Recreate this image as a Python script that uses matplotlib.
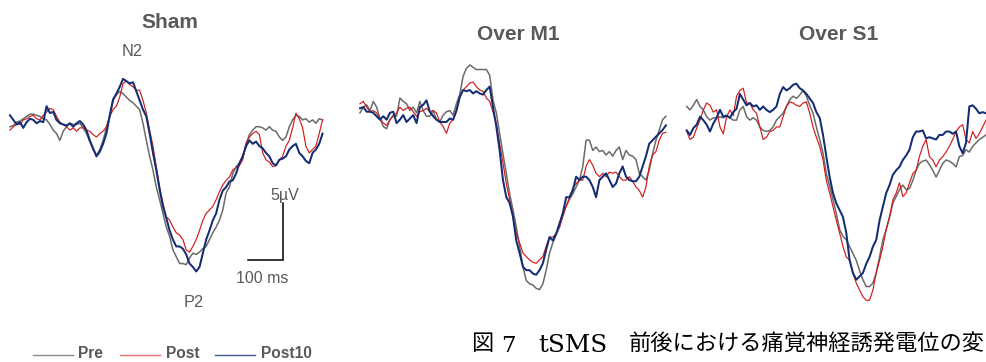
import matplotlib
matplotlib.use("Agg")
import numpy as np
import matplotlib.pyplot as plt
from matplotlib.lines import Line2D

# Averaged pain-related evoked potentials (µV, negative plotted upward)
DT_MS = 9.5  # sampling interval of the averaged traces

conditions = ["Pre", "Post", "Post10"]
panel_titles = ["Sham", "Over M1", "Over S1"]

sham_pre = [0.3, 0.2, -0.1, -0.2, -0.4, -0.6, -0.8, -0.8, -0.7, -0.6,
            -0.4, -0.3, 0.1, 0.6, 0.9, 1.5, 0.7, 0.3, 0.0, 0.1,
            0.1, 0.0, 0.4, 0.9, 1.6, 2.3, 2.8, 2.3, 1.5, 0.4,
            -0.6, -2.0, -2.5, -2.8, -2.6, -2.3, -2.0, -1.8, -1.5, -1.2,
            0.0, 1.5, 2.9, 4.1, 5.6, 6.7, 7.9, 9.1, 9.9, 11.1,
            11.7, 12.3, 12.3, 12.4, 11.8, 11.4, 11.5, 11.3, 11.0, 10.8,
            10.2, 9.6, 9.1, 8.5, 7.6, 6.1, 5.6, 4.4, 3.8, 3.5,
            2.9, 1.8, 1.0, 0.6, 0.3, 0.3, 0.4, 0.6, 0.3, 0.6,
            0.7, 1.2, 1.5, 1.2, 0.3, -0.3, -0.7, -0.6, -0.3, -0.4,
            -0.1, -0.3, 0.0, -0.4, -0.3]
sham_post = [0.6, 0.3, 0.1, 0.1, -0.3, -0.4, -0.6, -0.7, -0.4, -0.3,
             -0.7, -1.0, -1.3, -1.2, -0.6, -0.1, 0.1, 0.3, 0.6, 0.4,
             0.7, 0.4, 0.4, 0.6, 0.7, 1.0, 1.2, 0.9, 0.7, 0.3,
             -0.6, -1.2, -1.5, -2.3, -3.5, -3.7, -3.4, -3.2, -2.9, -2.9,
             -2.0, -0.9, 0.6, 2.0, 3.8, 5.6, 7.0, 8.2, 8.5, 9.1,
             9.6, 9.8, 10.2, 11.1, 11.3, 10.8, 10.2, 9.4, 8.5, 7.9,
             7.6, 7.3, 6.7, 6.0, 5.4, 5.0, 4.7, 4.1, 3.9, 3.7,
             3.2, 1.8, 1.2, 0.9, 0.7, 1.0, 2.6, 3.2, 3.4, 3.8,
             3.7, 3.2, 2.9, 2.0, 1.5, 0.4, -0.9, -0.4, 0.4, 2.0,
             2.6, 2.3, 2.0, 0.9, -0.3]
sham_post10 = [-0.7, -0.3, 0.1, -0.1, 0.4, -0.1, -0.4, -0.3, 0.0, -0.2,
               -0.1, -1.5, -0.9, -1.0, -0.3, 0.0, 0.1, 0.2, 0.0, 0.3,
               0.0, -0.2, 0.1, 0.6, 1.5, 2.2, 2.9, 2.5, 1.8, 0.9,
               -0.7, -2.1, -2.6, -3.2, -3.9, -3.7, -3.5, -3.6, -2.8, -2.0,
               -1.2, -0.6, 0.9, 2.6, 4.1, 5.8, 7.3, 8.3, 9.4, 10.2,
               10.8, 10.8, 11.0, 11.5, 12.3, 12.6, 13.0, 12.6, 11.4, 10.2,
               9.4, 8.5, 7.9, 6.7, 5.9, 5.6, 5.1, 5.0, 4.4, 3.5,
               2.9, 2.0, 1.5, 1.8, 1.6, 2.0, 2.2, 2.6, 2.9, 3.5,
               3.7, 3.2, 3.1, 2.9, 2.3, 2.0, 1.8, 2.6, 2.9, 3.3,
               3.5, 2.6, 2.3, 1.8, 0.9]

m1_pre = [0.1, -0.4, -0.6, -0.1, -0.9, -0.4, 0.6, 1.3, 1.5, 0.7,
          0.3, 0.4, -1.2, -0.9, -0.7, -0.1, -0.4, 0.1, -0.9, -0.1,
          0.4, 0.4, -0.1, 0.7, 0.9, 0.3, 0.0, -0.1, 0.3, -0.7,
          -1.5, -3.1, -3.8, -4.1, -3.9, -3.7, -3.7, -3.7, -3.7, -3.2,
          -1.0, 0.1, 1.9, 3.7, 5.4, 7.2, 8.6, 10.1, 11.8, 13.6,
          14.8, 15.1, 15.2, 15.5, 15.6, 15.1, 13.9, 12.4, 11.5, 10.8,
          10.1, 8.9, 8.3, 7.7, 7.2, 6.6, 6.0, 4.8, 2.5, 2.5,
          3.4, 3.1, 3.5, 3.4, 3.8, 3.5, 3.9, 3.4, 3.1, 4.2,
          3.4, 3.8, 3.9, 4.2, 5.4, 5.7, 6.0, 5.1, 3.7, 2.5,
          1.6, 0.7, 0.4]
m1_post = [-0.7, -0.9, -0.4, 0.0, -0.1, 0.1, 0.6, 1.0, 1.2, 0.7,
           0.4, 0.1, -0.4, -0.1, -0.3, -0.4, 0.0, 0.4, 0.0, -0.1,
           -0.3, 0.0, -0.1, 0.1, 0.9, 1.3, 1.9, 1.0, 0.7, 0.0,
           -1.2, -1.9, -2.2, -2.5, -2.6, -2.2, -1.9, -1.8, -1.2, -0.9,
           0.0, 1.0, 2.8, 4.5, 6.3, 7.7, 9.2, 10.7, 11.5, 12.4,
           12.7, 13.0, 13.2, 13.3, 13.0, 12.7, 11.8, 11.0, 11.0, 10.7,
           10.1, 9.2, 8.3, 7.5, 6.7, 6.3, 6.0, 6.0, 4.8, 4.2,
           4.7, 5.4, 5.7, 5.4, 5.7, 5.3, 5.4, 5.3, 5.7, 6.0,
           6.0, 5.7, 6.1, 6.6, 6.9, 7.5, 6.6, 4.8, 3.8, 3.5,
           2.5, 1.9, 1.8]
m1_post10 = [-0.3, -0.4, 0.0, 0.0, 0.1, 0.4, 0.7, 0.4, 0.7, 0.1,
             0.0, 1.0, 0.7, 0.3, 0.9, 0.6, 0.3, 1.0, -0.4, -0.6,
             -1.0, 0.0, 0.4, 0.7, 0.9, 0.9, 0.9, 0.6, 0.7, -0.1,
             -1.3, -1.9, -1.8, -1.9, -1.6, -1.8, -1.6, -1.5, -1.9, -2.2,
             -0.4, 1.3, 3.4, 6.0, 7.5, 8.0, 9.2, 11.3, 12.4, 13.6,
             13.9, 13.9, 14.2, 14.3, 13.9, 13.3, 12.1, 11.0, 11.3, 10.7,
             9.8, 8.9, 7.5, 7.5, 6.9, 5.7, 6.0, 5.7, 5.7, 6.0,
             6.6, 7.5, 6.0, 5.7, 5.4, 6.0, 6.6, 6.3, 5.4, 4.8,
             5.7, 6.0, 6.1, 6.1, 5.7, 4.8, 3.9, 2.8, 2.5, 2.2,
             1.9, 1.6, 1.2]

s1_pre = [-0.9, -0.6, -1.0, -1.5, -0.9, -0.6, 0.0, 0.3, 0.1, 0.1,
          0.0, 0.1, -0.1, 0.1, 0.3, 0.3, -0.6, -0.9, 0.0, 0.3,
          0.1, 0.3, 0.9, 1.2, 1.3, 1.2, 0.9, 0.3, 0.0, -0.3,
          -0.9, -1.5, -1.8, -1.6, -1.9, -2.3, -1.8, -1.0, -0.3, 0.9,
          2.0, 3.2, 5.0, 6.1, 7.3, 8.5, 9.9, 10.5, 10.8, 11.4,
          12.0, 12.6, 13.5, 14.3, 14.9, 14.9, 14.6, 13.7, 12.3, 10.8,
          9.9, 8.8, 7.6, 7.0, 6.4, 6.0, 6.4, 6.3, 5.6, 4.7,
          4.1, 3.9, 3.8, 4.2, 4.7, 5.3, 4.7, 4.1, 3.8, 3.9,
          4.1, 4.4, 3.5, 3.4, 2.9, 3.1, 2.6, 2.3, 2.0, 1.8,
          1.6]
s1_post = [1.3, 2.0, 1.8, 1.0, 0.3, -0.6, -1.2, -1.0, -0.4, -0.6,
           0.9, 1.5, 0.0, -0.6, -0.1, -1.8, -2.3, -2.5, -1.2, -1.2,
           -0.6, -0.3, 0.9, 2.0, 1.8, 1.3, 1.2, 0.9, 0.9, 0.0,
           -0.9, -1.3, -1.2, -1.0, -0.9, -1.2, -1.3, -0.3, 0.9, 1.8,
           2.6, 3.8, 5.6, 6.7, 7.9, 9.1, 10.2, 11.4, 12.3, 12.6,
           13.7, 14.6, 15.2, 15.8, 16.1, 16.1, 15.2, 13.7, 12.6, 11.4,
           9.9, 8.8, 7.3, 6.7, 5.8, 7.0, 6.7, 5.8, 5.0, 4.7,
           3.5, 2.6, 2.0, 3.5, 3.8, 4.4, 3.8, 3.5, 3.1, 2.6,
           2.0, 1.3, 0.9, 0.7, 2.0, 2.3, 1.3, 1.9, 1.5, 0.9,
           0.3]
s1_post10 = [1.2, 1.6, 1.0, 0.7, 0.0, 0.3, 0.7, 1.3, 0.6, 0.1,
             -0.6, 0.0, -0.1, 0.1, -0.4, -0.7, -2.0, -1.5, -1.0, -1.2,
             -0.9, -1.0, -0.6, -0.9, -0.6, -0.4, -0.6, -0.9, -2.0, -2.6,
             -2.3, -2.5, -2.8, -2.9, -2.5, -2.3, -2.0, -1.6, -1.2, -0.4,
             0.1, 1.6, 3.5, 5.3, 6.7, 7.6, 8.2, 8.8, 10.2, 12.6,
             13.7, 14.3, 14.0, 13.7, 12.9, 12.3, 11.4, 10.8, 9.1, 7.9,
             6.7, 6.0, 5.1, 4.7, 4.4, 3.8, 3.4, 2.9, 1.8, 1.3,
             1.3, 1.2, 1.9, 1.8, 1.9, 2.0, 1.6, 1.6, 1.3, 1.3,
             1.5, 1.3, 2.6, 3.2, 2.3, -0.9, -1.0, -0.7, -0.3, -0.4,
             -0.3]

panel_traces = [
    {"Pre": sham_pre, "Post": sham_post, "Post10": sham_post10},
    {"Pre": m1_pre, "Post": m1_post, "Post10": m1_post10},
    {"Pre": s1_pre, "Post": s1_post, "Post10": s1_post10},
]

SCALE_MS = 100
SCALE_UV = 5

colors = {"Pre": "#6b6b6b", "Post": "#d11a1a", "Post10": "#122d74"}
widths = {"Pre": 1.1, "Post": 0.85, "Post10": 1.45}
legend_colors = {"Pre": "#8c8c8c", "Post": "#e27373", "Post10": "#43578f"}
text_gray = "#595959"

# ---- layout (pixels) ----
W, H, DPI = 987, 362, 100
PX_PER_MS = 0.35
PX_PER_UV = 11.4

fig = plt.figure(figsize=(W / DPI, H / DPI), dpi=DPI)
fig.patch.set_facecolor("white")


def fx(px):
    return px / W


def fy(py):
    return 1 - py / H


def add_panel(left, right, t0_px, v0_px):
    ax = fig.add_axes([fx(left), 0, (right - left) / W, 1])
    ax.set_xlim((left - t0_px) / PX_PER_MS, (right - t0_px) / PX_PER_MS)
    # negative voltage up
    ax.set_ylim((H - v0_px) / PX_PER_UV, (0 - v0_px) / PX_PER_UV)
    ax.axis("off")
    return ax


panel_geom = [(0, 338, 10.0, 123.3), (338, 675, 360.0, 111.7), (675, 987, 686.7, 116.7)]
title_pos = [(170, 28.3), (518.5, 40.0), (839, 40.0)]

axes = []
for geom, traces, title, (tx, ty) in zip(panel_geom, panel_traces, panel_titles, title_pos):
    ax = add_panel(*geom)
    for cond in conditions:
        v = np.asarray(traces[cond])
        t = np.arange(len(v)) * DT_MS
        ax.plot(t, v, color=colors[cond], lw=widths[cond], solid_joinstyle="round",
                clip_on=True)
    fig.text(fx(tx), fy(ty), title, ha="center", va="baseline", fontsize=15,
             fontweight="bold", family="Liberation Sans", color=text_gray)
    axes.append(ax)

# component labels and scale bar on the sham panel
ax0 = axes[0]
lab = dict(family="Liberation Sans", fontsize=11.8, color=text_gray)
ax0.text(349, -5.9, "N2", ha="center", va="baseline", **lab)
ax0.text(526, 16.1, "P2", ha="center", va="baseline", **lab)

corner_t, corner_v = 780, 12.0
ax0.plot([corner_t - SCALE_MS, corner_t, corner_t],
         [corner_v, corner_v, corner_v - SCALE_UV],
         color="black", lw=1.1, solid_joinstyle="miter")
ax0.text(corner_t + 6, corner_v - SCALE_UV - 0.25, "5µV", ha="center", va="baseline",
         family="Liberation Sans", fontsize=11.5, color=text_gray)
ax0.text(corner_t - SCALE_MS / 2 - 10, corner_v + 2.0, "100 ms", ha="center",
         va="baseline", family="Liberation Sans", fontsize=11.5, color=text_gray)

# legend along the bottom edge
legend_x = [(33, 73, 78), (120, 160, 166), (215, 255, 261)]
for cond, (x1, x2, xt) in zip(conditions, legend_x):
    fig.add_artist(Line2D([fx(x1), fx(x2)], [fy(355.0), fy(355.0)],
                          color=legend_colors[cond], lw=1.0, transform=fig.transFigure))
    fig.text(fx(xt), fy(358.5), cond, ha="left", va="baseline", fontsize=11.2,
             fontweight="bold", family="Liberation Sans", color=text_gray)

# figure caption
cap_kw = dict(va="baseline", ha="left", color="black")
fig.text(fx(471), fy(350.5), "図", family=["Noto Sans CJK JP"], fontsize=16, **cap_kw)
fig.text(fx(501), fy(351.5), "7", family=["DejaVu Serif"], fontsize=16.5, **cap_kw)
fig.text(fx(538), fy(351.5), "tSMS", family=["DejaVu Serif"], fontsize=17.8, **cap_kw)
fig.text(fx(629), fy(350.5), "前後における痛覚神経誘発電位の変",
         family=["Noto Sans CJK JP"], fontsize=16, **cap_kw)

fig.savefig("out.png", dpi=DPI, facecolor="white")
